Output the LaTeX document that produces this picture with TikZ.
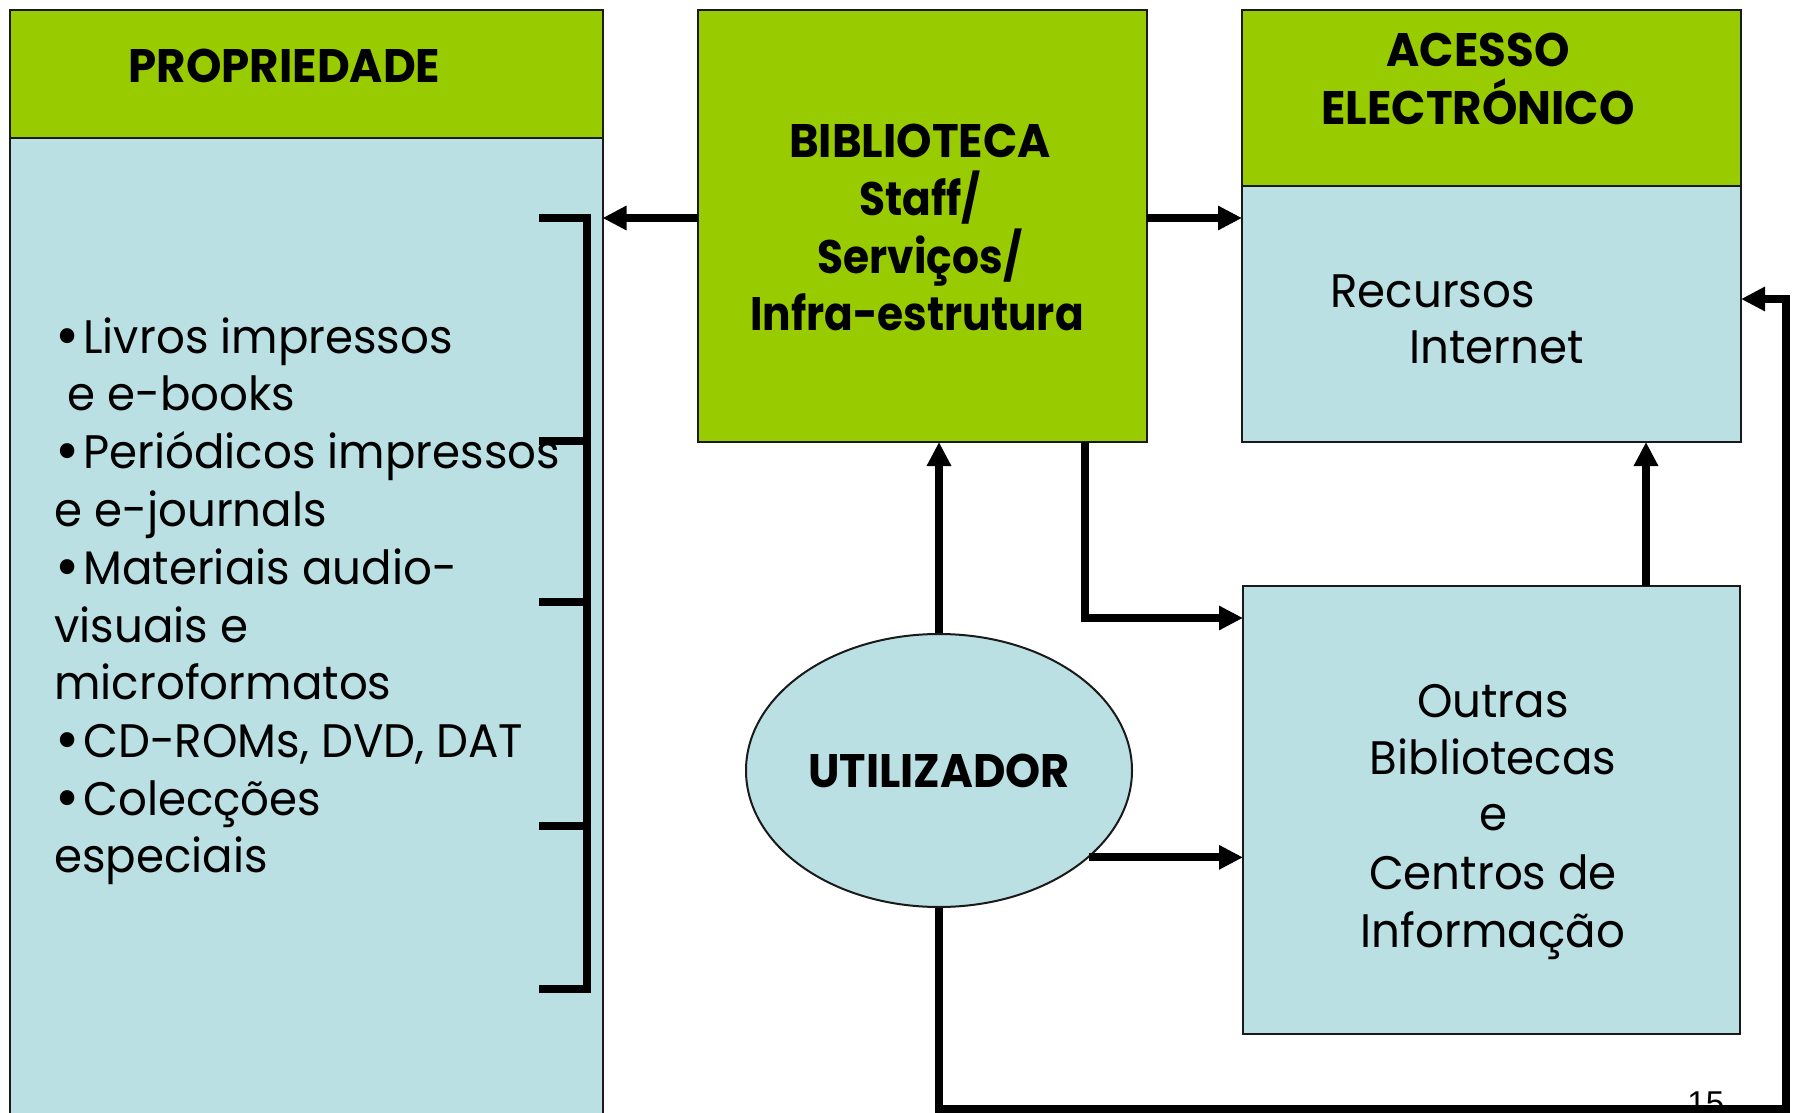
\documentclass[tikz,border=0pt]{standalone}
\usepackage{fontspec}
\setmainfont{Poppins}[FakeStretch=0.96]
\newfontfamily\condfont{Poppins}[FakeStretch=0.9]
\newfontfamily\semifont{Poppins}[FakeStretch=0.95]
\newfontfamily\numfont{Liberation Sans}
\usetikzlibrary{arrows.meta,shapes.geometric}
\definecolor{lgreen}{HTML}{99CC00}
\definecolor{lblue}{HTML}{BBE0E3}
\definecolor{edgec}{HTML}{1A1A1A}
\begin{document}
\begin{tikzpicture}[x=0.5pt,y=-0.5pt,
  box/.style={draw=edgec,line width=1pt,inner sep=0,outer sep=0},
  gbox/.style={box,fill=lgreen},
  bbox/.style={box,fill=lblue},
  arr/.style={line width=4pt,-{Triangle[length=12pt,width=11.5pt]}},
  conn/.style={line width=4pt},
  reg/.style={font=\fontsize{23.5}{28}\selectfont,inner sep=0,anchor=base west},
  regc/.style={font=\fontsize{23.5}{28}\selectfont,inner sep=0,anchor=base},
  bld/.style={font=\fontsize{23.5}{28}\selectfont\bfseries,inner sep=0,anchor=base},
  bldc/.style={font=\condfont\fontsize{23.5}{28}\selectfont\bfseries,inner sep=0,anchor=base},
]
\useasboundingbox (0,0) rectangle (1796,1113);
\clip (0,0) rectangle (1796,1113);
\fill[white] (0,0) rectangle (1796,1113);

% boxes
\node[bbox,minimum width=296.5pt,minimum height=493.5pt] (propB) at (306,631.5) {};
\node[gbox,minimum width=296.5pt,minimum height=64pt] (propH) at (306,74) {};
\node[gbox,minimum width=224.5pt,minimum height=216pt] (bib) at (922.5,226) {};
\node[bbox,minimum width=249.5pt,minimum height=128pt] (aceB) at (1491.5,314) {};
\node[gbox,minimum width=249.5pt,minimum height=88pt] (aceH) at (1491.5,98) {};
\node[bbox,minimum width=248.5pt,minimum height=224pt] (outr) at (1491.5,810) {};
\node[ellipse,draw=edgec,line width=1pt,fill=lblue,minimum width=193pt,minimum height=136.5pt,inner sep=0,
      font=\semifont\fontsize{23.5}{28}\selectfont\bfseries] (user) at (939,770.5) {UTILIZADOR};

% header texts
\node[bld] (tProp) at (284.5,83) {PROPRIEDADE};
\node[bld] (tBib1) at (920,157.5) {BIBLIOTECA};
\node[bldc] (tBib2) at (920,215) {Staff/};
\node[bldc] (tBib3) at (920,273) {Serviços/};
\node[bldc] (tBib4) at (917,330) {Infra-estrutura};
\node[bld] (tAce1) at (1478,67) {ACESSO};
\node[bld] (tAce2) at (1478,125) {ELECTRÓNICO};

% regular texts
\node[reg] (tRec1) at (1330,307) {Recursos};
\node[reg] (tRec2) at (1409,363) {Internet};
\node[regc] (tOut1) at (1493,717) {Outras};
\node[regc] (tOut2) at (1493,774) {Bibliotecas};
\node[regc] (tOut3) at (1493,830) {e};
\node[regc] (tOut4) at (1493,889) {Centros de};
\node[regc] (tOut5) at (1493,947) {Informação};

% list
\newcommand{\bul}{\makebox[12.5pt][l]{\hspace{-1.5pt}\raisebox{-1.5pt}{\scalebox{1.3}{•}}}}
\node[reg] (l1) at (58,353) {\bul Livros impressos};
\node[reg] (l2) at (67,410.7) {e e-books};
\node[reg] (l3) at (58,468.5) {\bul Periódicos impressos};
\node[reg] (l4) at (54,526) {e e-journals};
\node[reg] (l5) at (58,584) {\bul Materiais audio-};
\node[reg] (l6) at (54,642) {visuais e};
\node[reg] (l7) at (54,699) {microformatos};
\node[reg] (l8) at (58,757) {\bul CD-ROMs, DVD, DAT};
\node[reg] (l9) at (58,815) {\bul Colecções};
\node[reg] (l10) at (54,872.5) {especiais};

\node[font=\numfont\fontsize{16.5}{20}\selectfont,inner sep=0,anchor=base west] (pg) at (1687,1114) {15};

% connectors
\coordinate (yA) at (0,218);
\coordinate (bx) at (1085,0);
\coordinate (yB) at (0,618);
\coordinate (uE) at (user.-30.6);
\coordinate (ox) at (1646,0);
\coordinate (yD) at (0,1109);
\coordinate (xR) at (1786,0);
\coordinate (yE) at (0,299);

\draw[arr] (bib.west |- yA) -- (propB.east |- yA);
\draw[arr] (bib.east |- yA) -- (aceB.west |- yA);
\draw[arr] (user.north) -- (user.north |- bib.south);
\draw[arr] (bx |- bib.south) |- (outr.west |- yB);
\draw[arr] (uE) -- (outr.west |- uE);
\draw[arr] (ox |- outr.north) -- (ox |- aceB.south);
\draw[arr] (user.south) -- (user.south |- yD) -| (xR |- yE) -- (aceB.east |- yE);

% bracket
\draw[conn] (539,218) -- (587,218) -- (587,989) -- (539,989);
\foreach \yy in {441,602,826} \draw[conn] (539,\yy) -- (587,\yy);
\end{tikzpicture}
\end{document}
